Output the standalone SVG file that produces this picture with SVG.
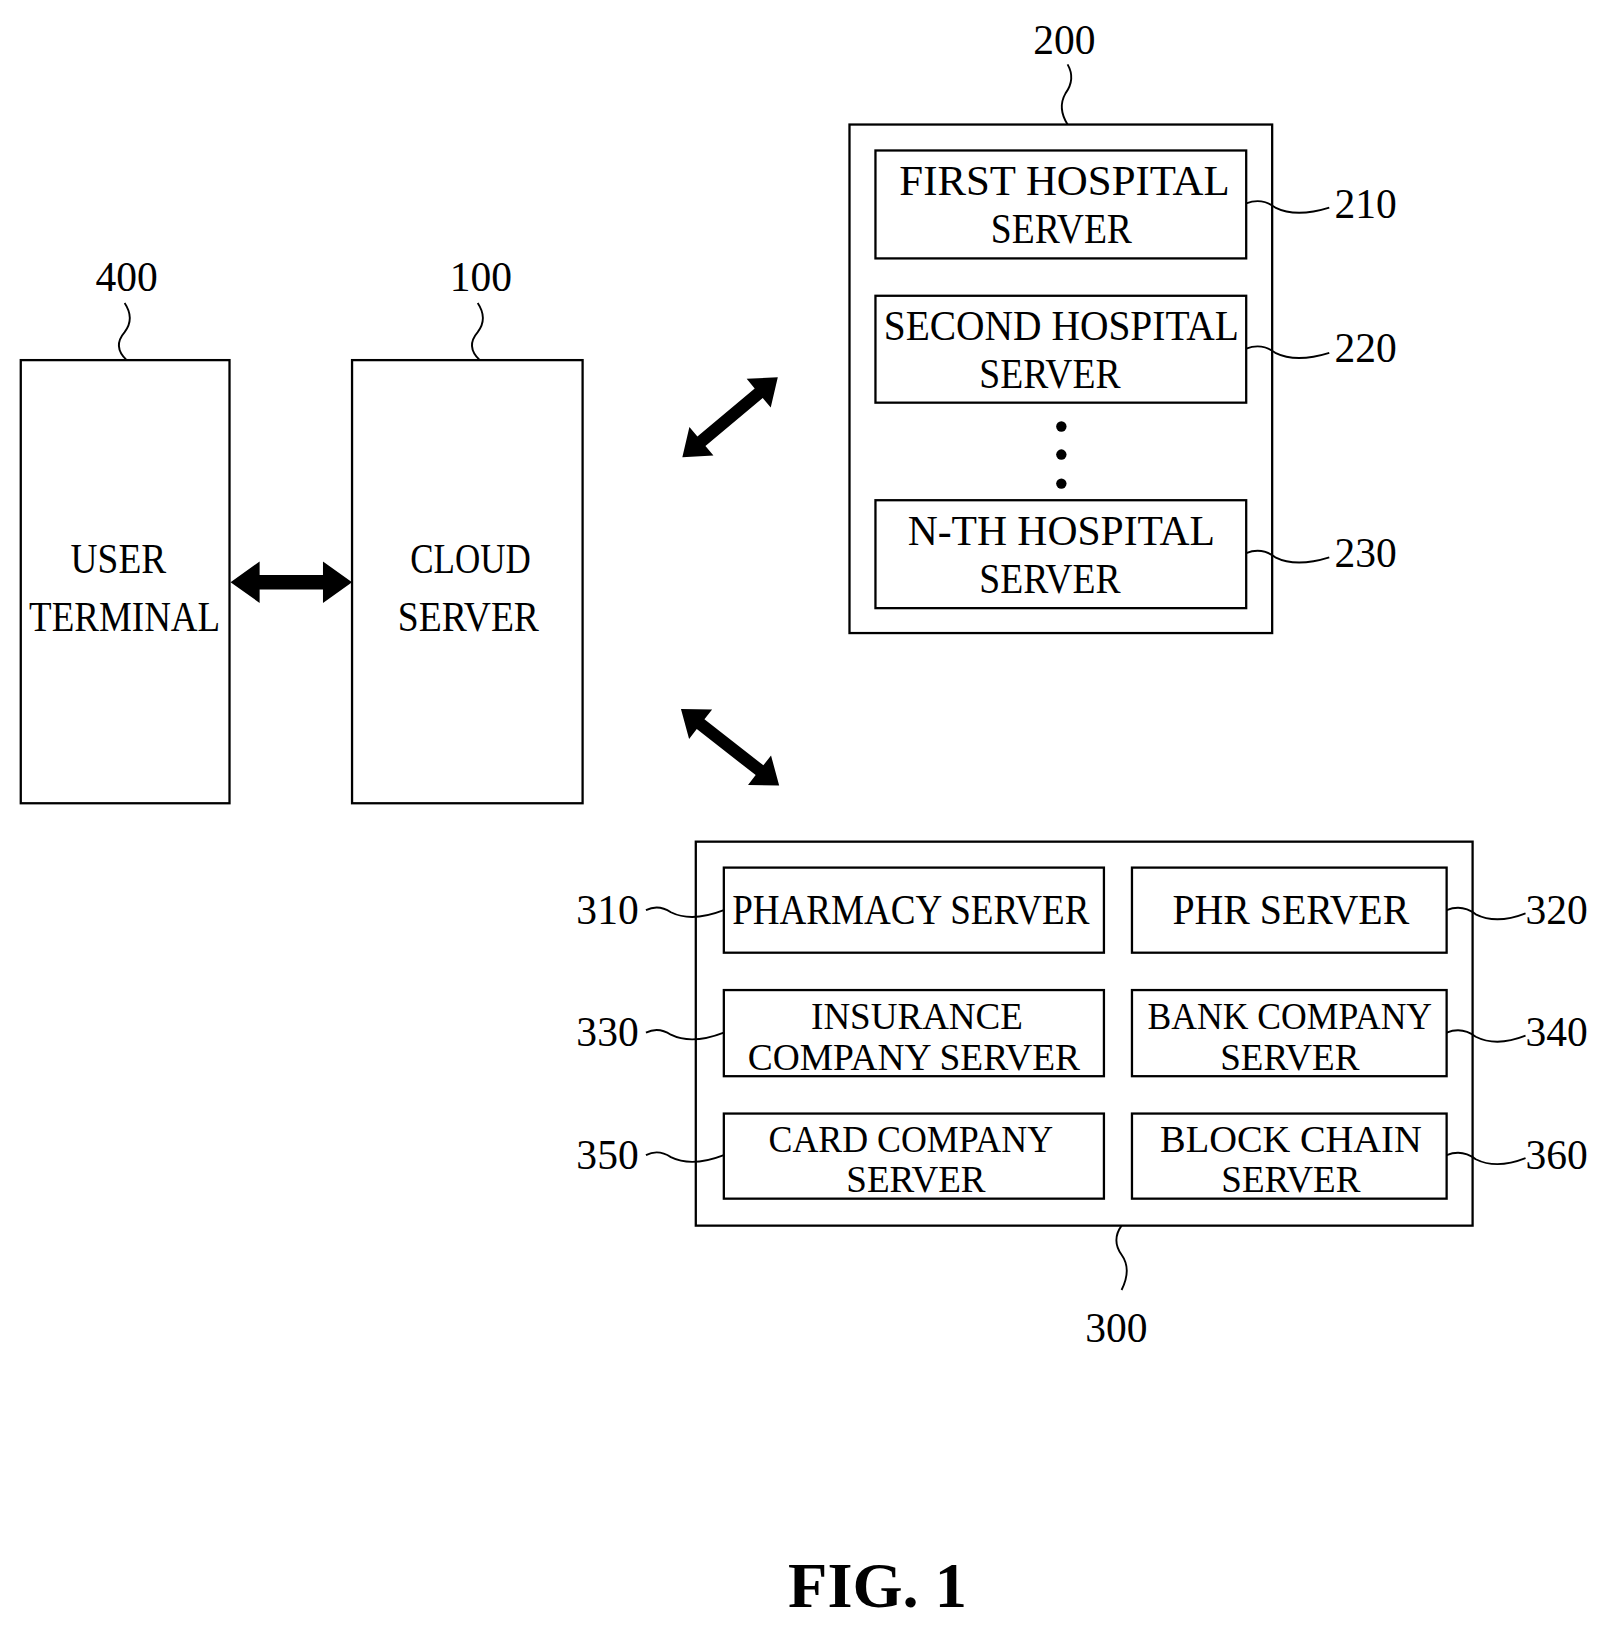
<svg xmlns="http://www.w3.org/2000/svg" width="1615" height="1627" viewBox="0 0 1615 1627">
<style>
.b{fill:#fff;stroke:#000;stroke-width:2.2}
.t{font-family:"Liberation Serif",serif;font-size:40px;fill:#000;text-anchor:middle}
.s{font-family:"Liberation Serif",serif;font-size:37px;fill:#000;text-anchor:middle}
.n{font-family:"Liberation Serif",serif;font-size:40px;fill:#000}
.l{fill:none;stroke:#000;stroke-width:1.8}
</style>
<rect width="1615" height="1627" fill="#fff"/>
<g transform="scale(1.0385,1.0378)">
<g id="n400"><rect class="b" x="20" y="347" width="201" height="427"/><text class="t" x="114" y="552" textLength="92" lengthAdjust="spacingAndGlyphs">USER</text><text class="t" x="120" y="608" textLength="184" lengthAdjust="spacingAndGlyphs">TERMINAL</text><text class="n" x="92" y="280">400</text><path class="l" d="M120 292 q10 15 0 28 q-12 14 2 27"/></g>
<g id="n100"><rect class="b" x="339" y="347" width="222" height="427"/><text class="t" x="453" y="552" textLength="116" lengthAdjust="spacingAndGlyphs">CLOUD</text><text class="t" x="451" y="608" textLength="136" lengthAdjust="spacingAndGlyphs">SERVER</text><text class="n" x="433" y="280">100</text><path class="l" d="M460 292 q10 15 0 28 q-12 14 2 27"/></g>
<g id="n200"><rect class="b" x="818" y="120" width="407" height="490"/><text class="n" x="995" y="52">200</text><path class="l" d="M1028 62 q8 14 -2 28 q-8 14 2 30"/>
<circle cx="1022" cy="411" r="5"/><circle cx="1022" cy="438" r="5"/><circle cx="1022" cy="466" r="5"/></g>
<g id="n210"><rect class="b" x="843" y="145" width="357" height="104"/><text class="t" x="1025" y="188" textLength="318" lengthAdjust="spacingAndGlyphs">FIRST HOSPITAL</text><text class="t" x="1022" y="234" textLength="136" lengthAdjust="spacingAndGlyphs">SERVER</text><text class="n" x="1285" y="210">210</text><path class="l" d="M1200 196 q15 -6 28 4 q20 10 52 0"/></g>
<g id="n220"><rect class="b" x="843" y="285" width="357" height="103"/><text class="t" x="1022" y="328" textLength="342" lengthAdjust="spacingAndGlyphs">SECOND HOSPITAL</text><text class="t" x="1011" y="374" textLength="136" lengthAdjust="spacingAndGlyphs">SERVER</text><text class="n" x="1285" y="349">220</text><path class="l" d="M1200 336 q15 -6 28 4 q20 10 52 0"/></g>
<g id="n230"><rect class="b" x="843" y="482" width="357" height="104"/><text class="t" x="1022" y="525" textLength="296" lengthAdjust="spacingAndGlyphs">N-TH HOSPITAL</text><text class="t" x="1011" y="571" textLength="136" lengthAdjust="spacingAndGlyphs">SERVER</text><text class="n" x="1285" y="546">230</text><path class="l" d="M1200 533 q15 -6 28 4 q20 10 52 0"/></g>
<g id="n300"><rect class="b" x="670" y="811" width="748" height="370"/><text class="n" x="1045" y="1293">300</text><path class="l" d="M1080 1181 q-10 14 0 28 q10 14 0 34"/></g>
<g id="n310"><rect class="b" x="697" y="836" width="366" height="82"/><text class="t" x="877" y="890" textLength="344" lengthAdjust="spacingAndGlyphs">PHARMACY SERVER</text><text class="n" x="555" y="890">310</text><path class="l" d="M622 877 q12 -6 24 2 q20 10 51 -2"/></g>
<g id="n320"><rect class="b" x="1090" y="836" width="303" height="82"/><text class="t" x="1243" y="890" textLength="228" lengthAdjust="spacingAndGlyphs">PHR SERVER</text><text class="n" x="1469" y="890">320</text><path class="l" d="M1393 877 q15 -6 28 4 q20 10 48 -1"/></g>
<g id="n330"><rect class="b" x="697" y="954" width="366" height="83"/><text class="s" x="883" y="992" textLength="204" lengthAdjust="spacingAndGlyphs">INSURANCE</text><text class="s" x="880" y="1031" textLength="320" lengthAdjust="spacingAndGlyphs">COMPANY SERVER</text><text class="n" x="555" y="1008">330</text><path class="l" d="M622 995 q12 -6 24 2 q20 10 51 -2"/></g>
<g id="n340"><rect class="b" x="1090" y="954" width="303" height="83"/><text class="s" x="1242" y="992" textLength="274" lengthAdjust="spacingAndGlyphs">BANK COMPANY</text><text class="s" x="1242" y="1031" textLength="134" lengthAdjust="spacingAndGlyphs">SERVER</text><text class="n" x="1469" y="1008">340</text><path class="l" d="M1393 995 q15 -6 28 4 q20 10 48 -1"/></g>
<g id="n350"><rect class="b" x="697" y="1073" width="366" height="82"/><text class="s" x="877" y="1110" textLength="274" lengthAdjust="spacingAndGlyphs">CARD COMPANY</text><text class="s" x="882" y="1149" textLength="134" lengthAdjust="spacingAndGlyphs">SERVER</text><text class="n" x="555" y="1126">350</text><path class="l" d="M622 1113 q12 -6 24 2 q20 10 51 -2"/></g>
<g id="n360"><rect class="b" x="1090" y="1073" width="303" height="82"/><text class="s" x="1243" y="1110" textLength="252" lengthAdjust="spacingAndGlyphs">BLOCK CHAIN</text><text class="s" x="1243" y="1149" textLength="134" lengthAdjust="spacingAndGlyphs">SERVER</text><text class="n" x="1469" y="1126">360</text><path class="l" d="M1393 1113 q15 -6 28 4 q20 10 48 -1"/></g>
<g id="connectors">
<polygon points="222,561 250,541 250,554 311,554 311,541 339,561 311,581 311,568 250,568 250,581"/>
<g transform="translate(703,402) rotate(-40)"><polygon points="-60,0 -36,-18 -36,-6 36,-6 36,-18 60,0 36,18 36,6 -36,6 -36,18"/></g>
<g transform="translate(703,720) rotate(38)"><polygon points="-60,0 -36,-18 -36,-6 36,-6 36,-18 60,0 36,18 36,6 -36,6 -36,18"/></g>
</g>
<text x="845" y="1548" style="font-family:'Liberation Serif',serif;font-size:62px;font-weight:bold;text-anchor:middle">FIG. 1</text>
</g>
</svg>
